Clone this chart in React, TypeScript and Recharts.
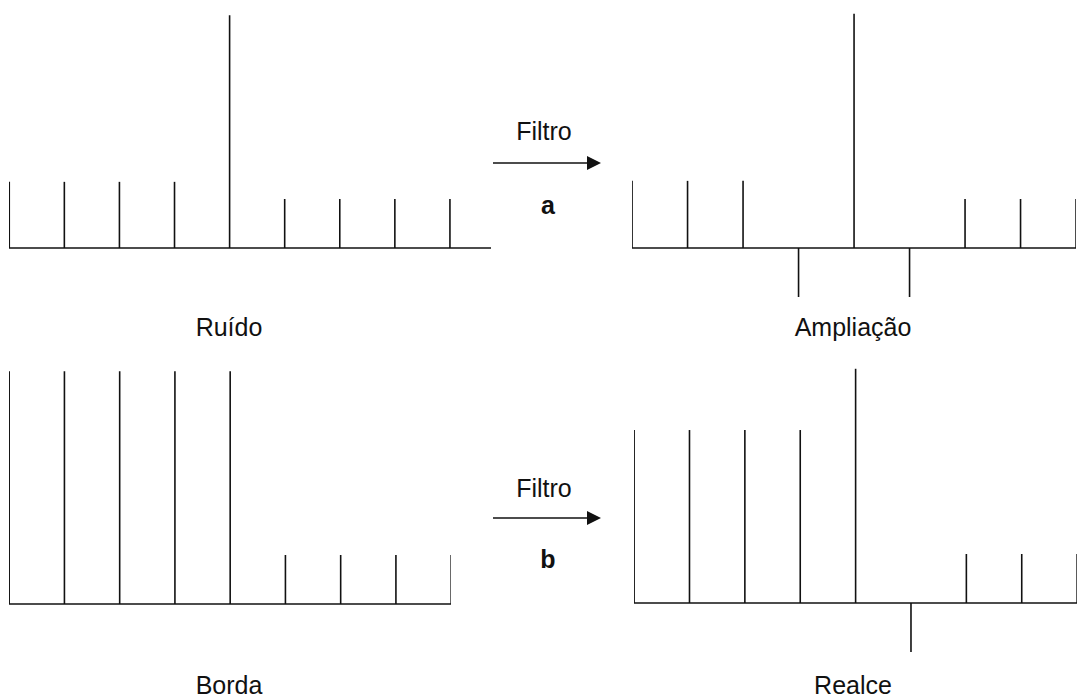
import { BarChart, Bar, XAxis, YAxis, ReferenceLine } from "recharts"

// stem positions (sample index) and stem heights per panel
const positions = [0, 1, 2, 3, 4, 5, 6, 7, 8]
const ruido = [1.35, 1.35, 1.35, 1.35, 4.75, 1, 1, 1, 1]
const ampliacao = [1.37, 1.37, 1.37, -1, 4.78, -1, 1, 1, 1]
const borda = [4.75, 4.75, 4.75, 4.75, 4.75, 1, 1, 1, 1]
const realce = [3.53, 3.53, 3.53, 3.53, 4.78, -1, 1, 1, 1]

const panelTitles = ["Ruído", "Ampliação", "Borda", "Realce"]
const filterLabels = ["a", "b"]

const FONT = "'Liberation Sans', Arial, sans-serif"
const INK = "#111"
const Y_DOMAIN = [-1.2, 5]
const PX_PER_UNIT = 49
const CHART_H = (Y_DOMAIN[1] - Y_DOMAIN[0]) * PX_PER_UNIT

const toRows = (values: number[]) => positions.map((p, i) => ({ n: p, v: values[i] }))

function Stems({ values, left, baseline, width, xMax }: {
  values: number[]
  left: number
  baseline: number
  width: number
  xMax: number
}) {
  const top = baseline - Y_DOMAIN[1] * PX_PER_UNIT
  return (
    <div style={{ position: "absolute", left, top }}>
      <BarChart
        width={width}
        height={CHART_H}
        data={toRows(values)}
        margin={{ top: 0, right: 0, bottom: 0, left: 0 }}
        barSize={1.6}
      >
        <XAxis dataKey="n" type="number" domain={[0, xMax]} hide />
        <YAxis type="number" domain={Y_DOMAIN} hide />
        <ReferenceLine y={0} stroke={INK} strokeWidth={1.5} />
        <Bar dataKey="v" fill={INK} isAnimationActive={false} />
      </BarChart>
    </div>
  )
}

function Arrow({ y, label, labelY, titleY }: { y: number; label: string; labelY: number; titleY: number }) {
  return (
    <g>
      <text x={544} y={titleY} textAnchor="middle" fontSize={25} fontFamily={FONT} fill={INK}>Filtro</text>
      <line x1={493} x2={589} y1={y} y2={y} stroke={INK} strokeWidth={1.5} />
      <polygon points={`587,${y - 7} 601,${y} 587,${y + 7}`} fill={INK} />
      <text x={548} y={labelY} textAnchor="middle" fontSize={25} fontWeight="bold" fontFamily={FONT} fill={INK}>{label}</text>
    </g>
  )
}

export default function App() {
  return (
    <div style={{ position: "absolute", left: 0, top: 0, width: 1081, height: 698, background: "#fff", overflow: "hidden" }}>
      <Stems values={ruido} left={9} baseline={248} width={482} xMax={8.75} />
      <Stems values={ampliacao} left={632} baseline={248} width={444} xMax={8} />
      <Stems values={borda} left={9} baseline={604} width={442} xMax={8} />
      <Stems values={realce} left={634} baseline={603} width={443} xMax={8} />
      <svg width={1081} height={698} style={{ position: "absolute", left: 0, top: 0, pointerEvents: "none" }}>
        <text x={229} y={336} textAnchor="middle" fontSize={25} fontFamily={FONT} fill={INK}>{panelTitles[0]}</text>
        <text x={853} y={336} textAnchor="middle" fontSize={25} fontFamily={FONT} fill={INK}>{panelTitles[1]}</text>
        <text x={229} y={694} textAnchor="middle" fontSize={25} fontFamily={FONT} fill={INK}>{panelTitles[2]}</text>
        <text x={853} y={694} textAnchor="middle" fontSize={25} fontFamily={FONT} fill={INK}>{panelTitles[3]}</text>
        <Arrow y={163} titleY={140} label={filterLabels[0]} labelY={214} />
        <Arrow y={518} titleY={497} label={filterLabels[1]} labelY={568} />
      </svg>
    </div>
  )
}
